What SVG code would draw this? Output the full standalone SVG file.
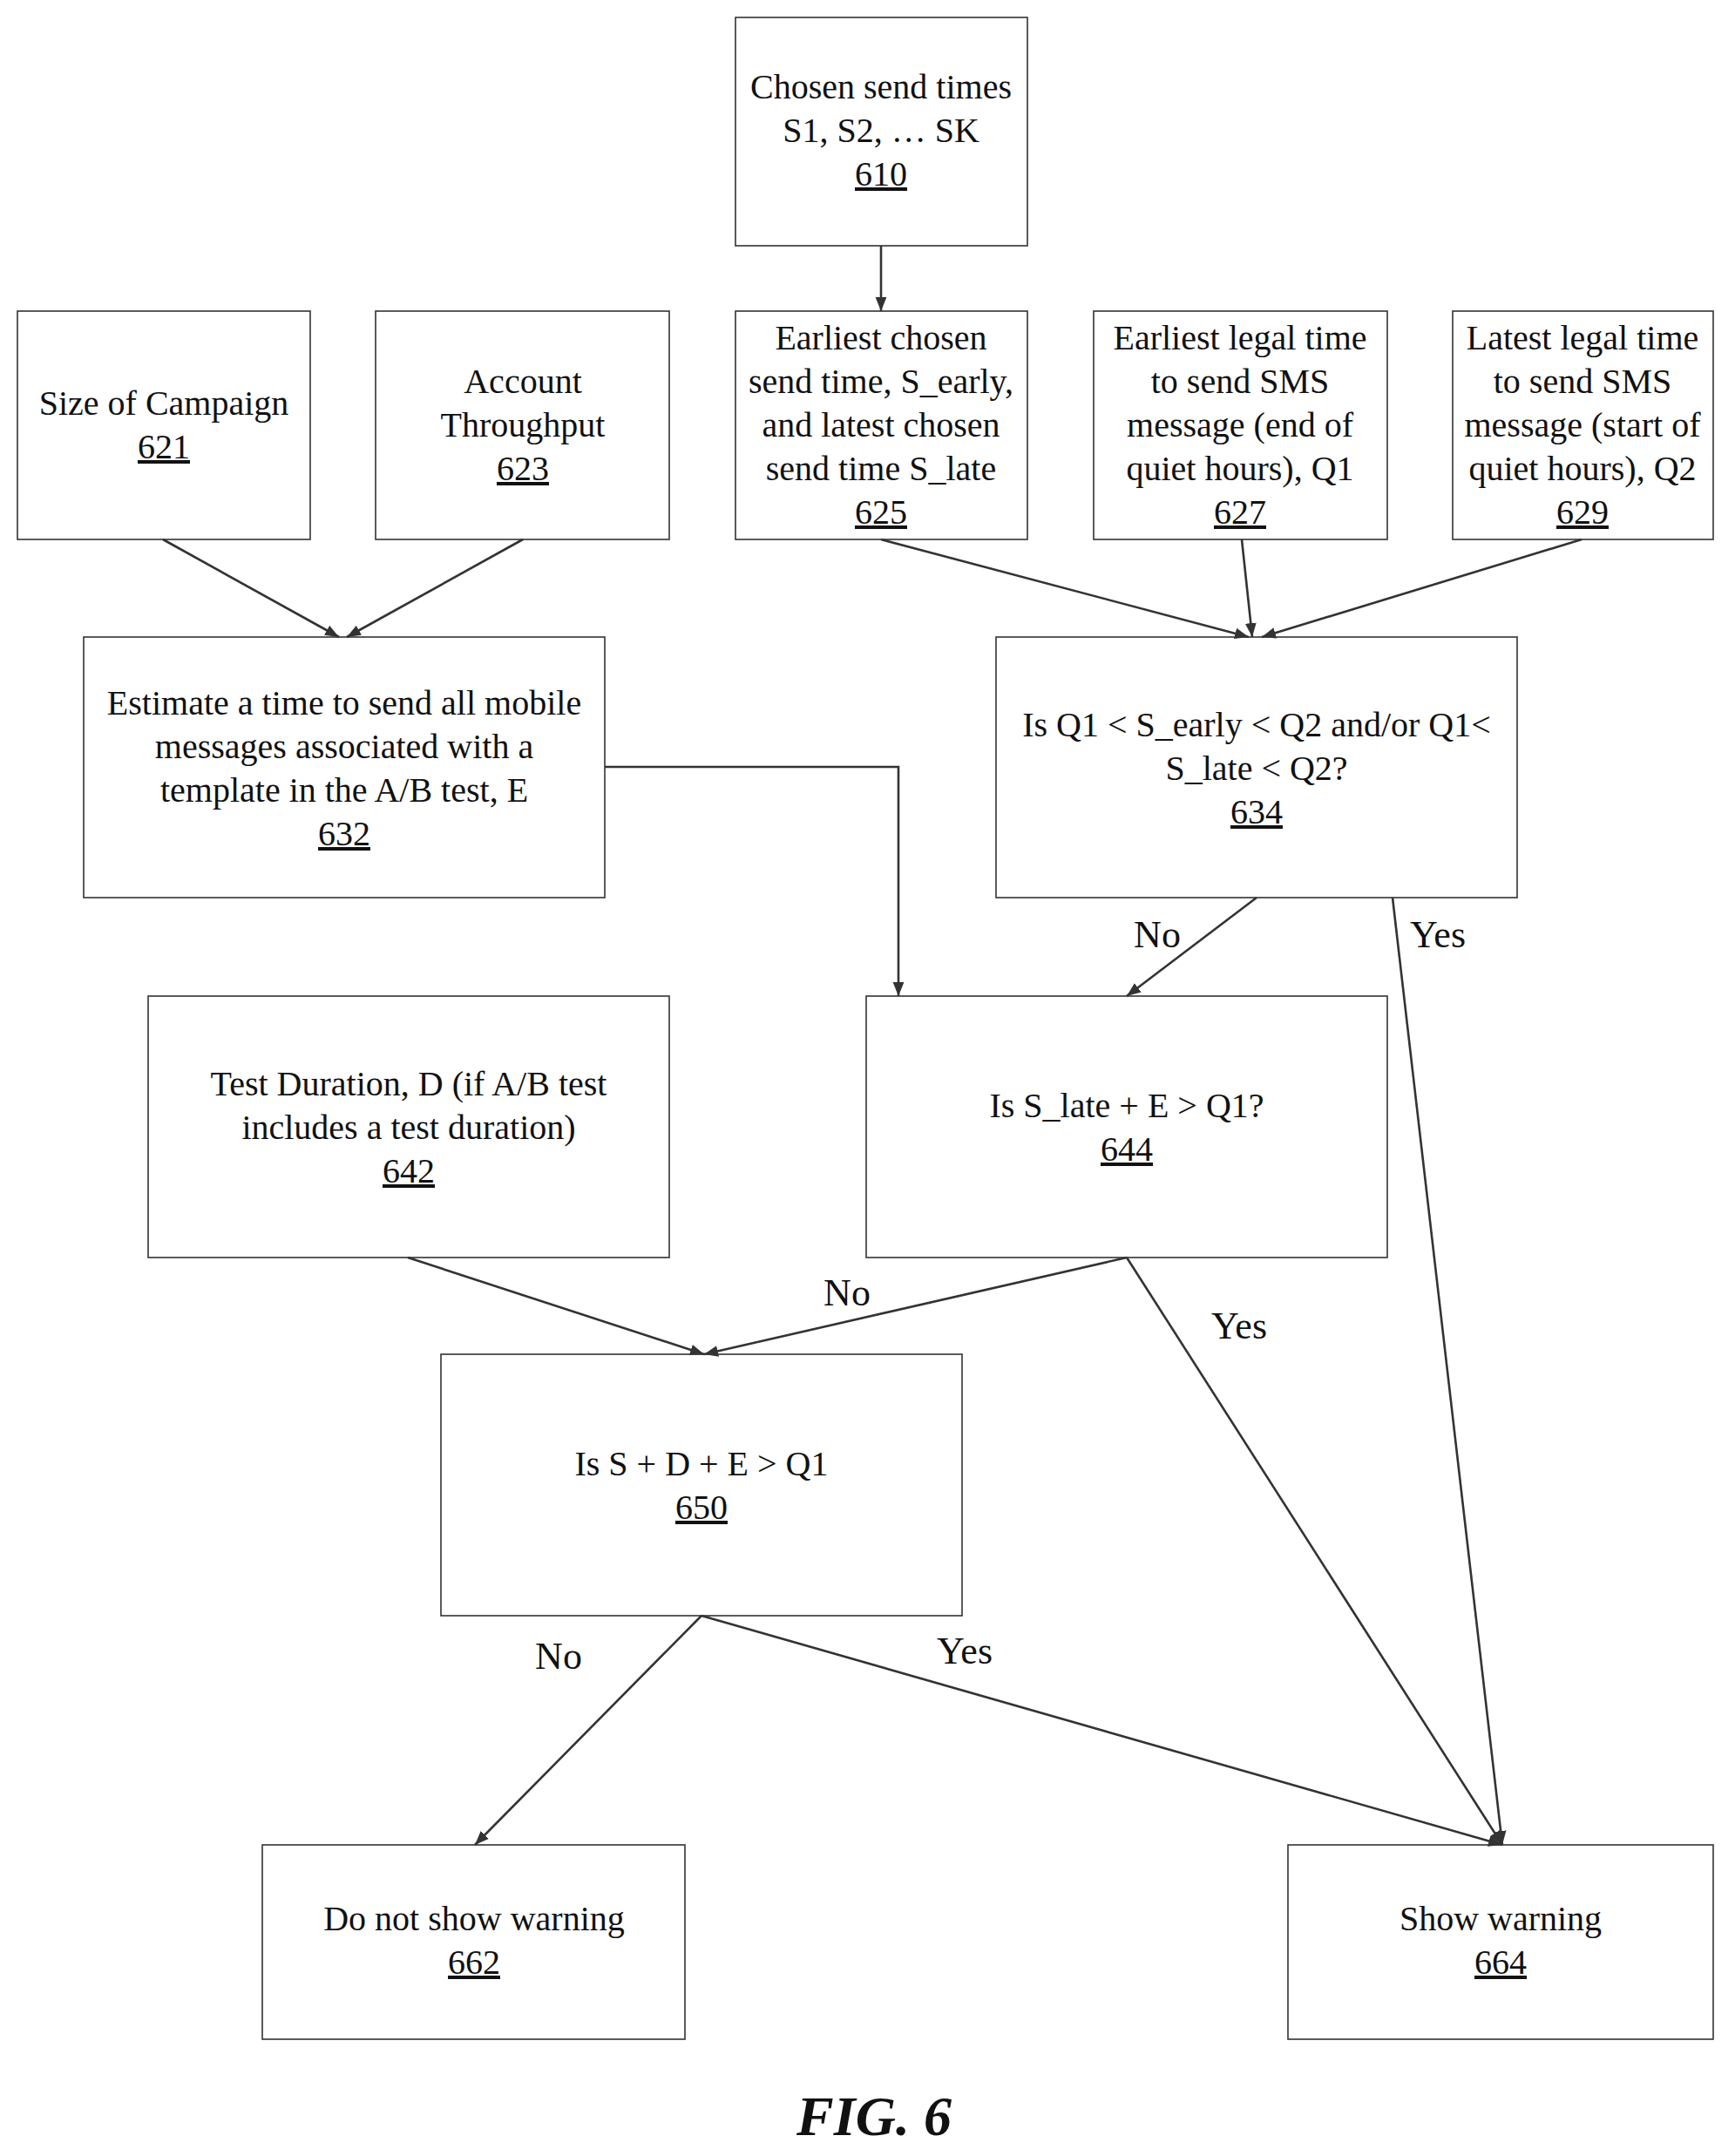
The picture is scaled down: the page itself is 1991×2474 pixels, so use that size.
<svg xmlns="http://www.w3.org/2000/svg" width="1991" height="2474" viewBox="0 0 1991 2474">
<style>
rect{fill:#fff;stroke:#333;stroke-width:1.6}
text{font-family:"Liberation Serif","Times New Roman",serif;font-size:40px;fill:#111;text-anchor:middle}
.n{text-decoration:underline}
.l{font-size:44px}
#connectors path,#connectors line{stroke:#333;stroke-width:2.6;fill:none;marker-end:url(#a)}
</style>
<defs><marker id="a" viewBox="0 0 10 10" refX="10" refY="5" markerWidth="9" markerHeight="9" markerUnits="userSpaceOnUse" orient="auto"><path d="M0,0 L10,5 L0,10 z" fill="#333"/></marker>
<marker id="b" viewBox="0 0 10 10" refX="10" refY="5" markerWidth="16" markerHeight="16" markerUnits="userSpaceOnUse" orient="auto"><path d="M0,1 L10,5 L0,9 z" fill="#333"/></marker></defs>
<style>#connectors path,#connectors line{marker-end:url(#b)}</style>
<g id="n610"><rect x="844" y="20" width="335" height="262"/><text x="1011" y="113">Chosen send times</text><text x="1011" y="163">S1, S2, … SK</text><text x="1011" y="213" class="n">610</text></g>
<g id="n621"><rect x="20" y="357" width="336" height="262"/><text x="188" y="476">Size of Campaign</text><text x="188" y="526" class="n">621</text></g>
<g id="n623"><rect x="431" y="357" width="337" height="262"/><text x="600" y="451">Account</text><text x="600" y="501">Throughput</text><text x="600" y="551" class="n">623</text></g>
<g id="n625"><rect x="844" y="357" width="335" height="262"/><text x="1011" y="401">Earliest chosen</text><text x="1011" y="451">send time, S_early,</text><text x="1011" y="501">and latest chosen</text><text x="1011" y="551">send time S_late</text><text x="1011" y="601" class="n">625</text></g>
<g id="n627"><rect x="1255" y="357" width="337" height="262"/><text x="1423" y="401">Earliest legal time</text><text x="1423" y="451">to send SMS</text><text x="1423" y="501">message (end of</text><text x="1423" y="551">quiet hours), Q1</text><text x="1423" y="601" class="n">627</text></g>
<g id="n629"><rect x="1667" y="357" width="299" height="262"/><text x="1816" y="401">Latest legal time</text><text x="1816" y="451">to send SMS</text><text x="1816" y="501">message (start of</text><text x="1816" y="551">quiet hours), Q2</text><text x="1816" y="601" class="n">629</text></g>
<g id="n632"><rect x="96" y="731" width="598" height="299"/><text x="395" y="820">Estimate a time to send all mobile</text><text x="395" y="870">messages associated with a</text><text x="395" y="920">template in the A/B test, E</text><text x="395" y="970" class="n">632</text></g>
<g id="n634"><rect x="1143" y="731" width="598" height="299"/><text x="1442" y="845">Is Q1 &lt; S_early &lt; Q2 and/or Q1&lt;</text><text x="1442" y="895">S_late &lt; Q2?</text><text x="1442" y="945" class="n">634</text></g>
<g id="n642"><rect x="170" y="1143" width="598" height="300"/><text x="469" y="1257">Test Duration, D (if A/B test</text><text x="469" y="1307">includes a test duration)</text><text x="469" y="1357" class="n">642</text></g>
<g id="n644"><rect x="994" y="1143" width="598" height="300"/><text x="1293" y="1282">Is S_late + E &gt; Q1?</text><text x="1293" y="1332" class="n">644</text></g>
<g id="n650"><rect x="506" y="1554" width="598" height="300"/><text x="805" y="1693">Is S + D + E &gt; Q1</text><text x="805" y="1743" class="n">650</text></g>
<g id="n662"><rect x="301" y="2117" width="485" height="223"/><text x="544" y="2215">Do not show warning</text><text x="544" y="2265" class="n">662</text></g>
<g id="n664"><rect x="1478" y="2117" width="488" height="223"/><text x="1722" y="2215">Show warning</text><text x="1722" y="2265" class="n">664</text></g>
<g id="connectors">
<line x1="1011" y1="282" x2="1011" y2="357"/>
<line x1="187" y1="619" x2="389" y2="731"/>
<line x1="600" y1="619" x2="398" y2="731"/>
<line x1="1011" y1="619" x2="1433" y2="731"/>
<line x1="1425" y1="619" x2="1437" y2="731"/>
<line x1="1815" y1="619" x2="1448" y2="731"/>
<path d="M694,880 H1031 V1143"/>
<line x1="1442" y1="1030" x2="1293" y2="1143"/>
<line x1="1598" y1="1030" x2="1724" y2="2117"/>
<line x1="468" y1="1443" x2="808" y2="1554"/>
<line x1="1293" y1="1443" x2="808" y2="1554"/>
<line x1="1293" y1="1443" x2="1724" y2="2117"/>
<line x1="805" y1="1854" x2="545" y2="2117"/>
<line x1="805" y1="1854" x2="1724" y2="2117"/>
</g>
<g id="labels">
<text class="l" x="1328" y="1087">No</text><text class="l" x="1650" y="1087">Yes</text>
<text class="l" x="972" y="1498">No</text><text class="l" x="1422" y="1536">Yes</text>
<text class="l" x="641" y="1915">No</text><text class="l" x="1107" y="1909">Yes</text>
</g>
<text x="1003" y="2450" style="font-size:64px;font-weight:bold;font-style:italic">FIG. 6</text>
</svg>
